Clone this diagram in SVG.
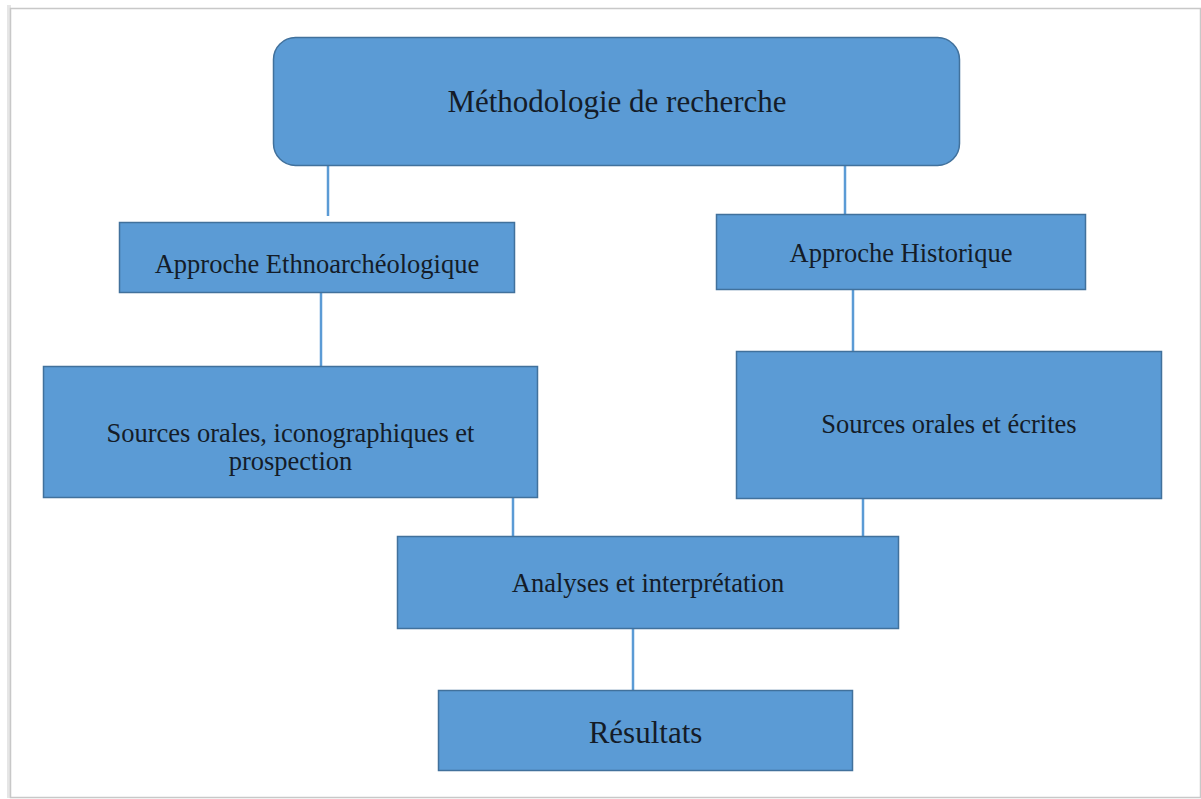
<svg xmlns="http://www.w3.org/2000/svg" width="1201" height="799" viewBox="0 0 1201 799">
  <defs>
    <style>
      .box { fill: #5b9bd5; stroke: #41719c; stroke-width: 1.5; }
      .lbl { font-family: "Liberation Serif", "Times New Roman", serif; font-size: 26.5px; fill: #141c28; text-anchor: middle; }
      .big { font-size: 31px; }
      .conn line { stroke: #5b9bd5; stroke-width: 2.5; }
    </style>
  </defs>
  <rect x="0" y="0" width="1201" height="799" fill="#ffffff"/>
  <!-- page frame -->
  <rect x="7" y="5" width="4" height="793" fill="#e6e6e6"/>
  <rect x="10.5" y="8.5" width="1190" height="789" fill="#ffffff" stroke="#c8c8c8" stroke-width="1.5"/>

  <g class="conn">
    <line x1="328" y1="166" x2="328" y2="216"/>
    <line x1="845" y1="166" x2="845" y2="214"/>
    <line x1="321" y1="293" x2="321" y2="366"/>
    <line x1="853" y1="290" x2="853" y2="351"/>
    <line x1="513" y1="497" x2="513" y2="536"/>
    <line x1="863" y1="498" x2="863" y2="536"/>
    <line x1="633" y1="629" x2="633" y2="690"/>
  </g>

  <g id="methodologie">
    <rect class="box" x="273.5" y="37.5" width="686" height="128" rx="22" ry="22"/>
    <text class="lbl big" x="617" y="112">Méthodologie de recherche</text>
  </g>
  <g id="ethno">
    <rect class="box" x="119.5" y="222.5" width="395" height="70"/>
    <text class="lbl" x="317" y="273">Approche Ethnoarchéologique</text>
  </g>
  <g id="historique">
    <rect class="box" x="716.5" y="214.5" width="369" height="75"/>
    <text class="lbl" x="901" y="262">Approche Historique</text>
  </g>
  <g id="sources-orales-icono">
    <rect class="box" x="43.5" y="366.5" width="494" height="131"/>
    <text class="lbl" x="290.5" y="442">Sources orales, iconographiques et</text>
    <text class="lbl" x="290.5" y="470">prospection</text>
  </g>
  <g id="sources-orales-ecrites">
    <rect class="box" x="736.5" y="351.5" width="425" height="147"/>
    <text class="lbl" x="949" y="433">Sources orales et écrites</text>
  </g>
  <g id="analyses">
    <rect class="box" x="397.5" y="536.5" width="501" height="92"/>
    <text class="lbl" x="648" y="592">Analyses et interprétation</text>
  </g>
  <g id="resultats">
    <rect class="box" x="438.5" y="690.5" width="414" height="80"/>
    <text class="lbl big" x="645.5" y="743">Résultats</text>
  </g>
</svg>
